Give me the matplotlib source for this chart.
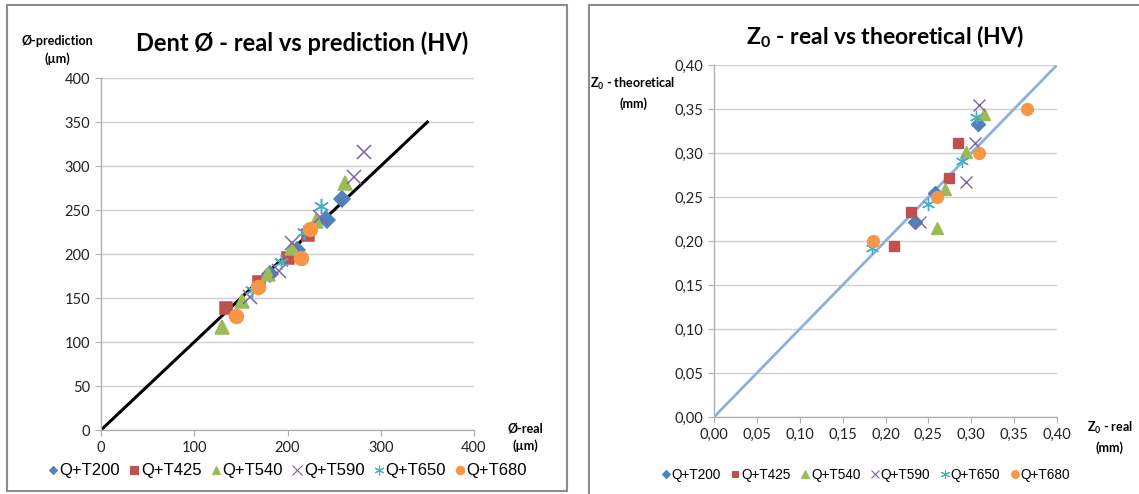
import matplotlib
matplotlib.use('Agg')
import matplotlib.pyplot as plt
from matplotlib.lines import Line2D
from matplotlib.patches import Rectangle
from matplotlib.ticker import FuncFormatter, MultipleLocator

plt.rcParams['font.family'] = ['Lato', 'DejaVu Sans']
plt.rcParams['mathtext.fontset'] = 'custom'
plt.rcParams['mathtext.rm'] = 'Lato'
plt.rcParams['mathtext.bf'] = 'Lato:bold'

series = ['Q+T200', 'Q+T425', 'Q+T540', 'Q+T590', 'Q+T650', 'Q+T680']
colors = ['#4f81bd', '#c0504d', '#9bbb59', '#8064a2', '#4bacc6', '#f79646']
markers = ['D', 's', '^', 'x', (6, 2, 0), 'o']

# dent diameter, real vs predicted (um)
dent_real = [
    [258, 242, 210, 181],
    [222, 200, 169, 134],
    [262, 231, 205, 179, 151, 130],
    [282, 271, 235, 205, 191, 160],
    [236, 218, 193, 162],
    [224, 215, 168, 145],
]
dent_pred = [
    [262, 239, 204, 177],
    [222, 196, 168, 139],
    [281, 237, 207, 177, 147, 117],
    [316, 287, 242, 212, 181, 151],
    [255, 225, 191, 159],
    [228, 195, 162, 129],
]

# Z0 depth, real vs theoretical (mm)
z0_real = [
    [0.308, 0.258, 0.234],
    [0.284, 0.274, 0.230, 0.210],
    [0.315, 0.294, 0.269, 0.260],
    [0.309, 0.304, 0.294, 0.240],
    [0.306, 0.289, 0.249, 0.184],
    [0.365, 0.309, 0.260, 0.185],
]
z0_theo = [
    [0.333, 0.254, 0.222],
    [0.311, 0.272, 0.233, 0.194],
    [0.344, 0.301, 0.259, 0.215],
    [0.354, 0.311, 0.267, 0.222],
    [0.341, 0.291, 0.242, 0.192],
    [0.350, 0.300, 0.250, 0.200],
]

W, H = 1139, 494
fig = plt.figure(figsize=(W / 100, H / 100), dpi=100)


def fx(x):
    return x / W


def fy(y):
    return 1 - y / H


# chart frames
fig.patches.append(Rectangle((fx(7), fy(491)), fx(560), (491 - 5) / H, transform=fig.transFigure,
                             fill=False, edgecolor='#8c8c8c', lw=1.5))
fig.patches.append(Rectangle((fx(589), fy(500)), fx(600), (500 - 5) / H, transform=fig.transFigure,
                             fill=False, edgecolor='#8c8c8c', lw=1.5))

ax1 = fig.add_axes([fx(101), fy(430), 373 / W, 352 / H])
ax2 = fig.add_axes([fx(714), fy(417), 343 / W, 352 / H])


def style(ax):
    for s in ['top', 'right']:
        ax.spines[s].set_visible(False)
    for s in ['left', 'bottom']:
        ax.spines[s].set_color('#b0b0b0')
        ax.spines[s].set_linewidth(1)
    ax.grid(axis='y', color='#d0d0d0', lw=1)
    ax.set_axisbelow(True)
    ax.tick_params(length=4, color='#b0b0b0', labelsize=10.5, labelcolor='#222222', pad=4)


msize = [7, 7.5, 8, 8, 9.5, 8.5]

# left: dent diameter
style(ax1)
ax1.plot([0, 350], [0, 350], color='black', lw=2.2, zorder=2)
for i in range(len(series)):
    ax1.plot(dent_real[i], dent_pred[i], ls='none', marker=markers[i], color=colors[i],
             ms=msize[i] + 1.5, mew=1.1, zorder=3)
ax1.set_xlim(0, 400)
ax1.set_ylim(0, 400)
ax1.xaxis.set_major_locator(MultipleLocator(100))
ax1.yaxis.set_major_locator(MultipleLocator(50))

# right: Z0 depth
style(ax2)
ax2.plot([0, 0.4], [0, 0.4], color='#8eb0dc', lw=2, zorder=2)
for i in range(len(series)):
    ax2.plot(z0_real[i], z0_theo[i], ls='none', marker=markers[i], color=colors[i],
             ms=msize[i], mew=1.0, zorder=3)
ax2.set_xlim(0, 0.4)
ax2.set_ylim(0, 0.4)
ax2.xaxis.set_major_locator(MultipleLocator(0.05))
ax2.yaxis.set_major_locator(MultipleLocator(0.05))
comma = FuncFormatter(lambda v, p: f'{v:.2f}'.replace('.', ','))
ax2.xaxis.set_major_formatter(comma)
ax2.yaxis.set_major_formatter(comma)

# titles and axis captions
fig.text(fx(302), fy(43), 'Dent Ø - real vs prediction (HV)', ha='center', va='center',
         fontsize=17, fontweight='bold')
fig.text(fx(885), fy(37), r'Z$_\mathbf{0}$ - real vs theoretical (HV)', ha='center', va='center',
         fontsize=16.5, fontweight='bold')
fig.text(fx(57), fy(50), 'Ø-prediction\n(µm)', ha='center', va='center', fontsize=9,
         fontweight='bold', linespacing=1.5)
fig.text(fx(525), fy(437), 'Ø-real\n(µm)', ha='center', va='center', fontsize=9,
         fontweight='bold', linespacing=1.5)
fig.text(fx(633), fy(93), r'Z$_\mathbf{0}$ - theoretical' + '\n(mm)', ha='center', va='center',
         fontsize=9, fontweight='bold', linespacing=1.5)
fig.text(fx(1110), fy(437), r'Z$_\mathbf{0}$ - real' + '\n(mm)', ha='center', va='center',
         fontsize=9, fontweight='bold', linespacing=1.5)


def legend_handles(size):
    return [Line2D([], [], ls='none', marker=markers[i], color=colors[i], ms=size[i], mew=0.8)
            for i in range(len(series))]


fig.legend(legend_handles([4.5, 5.5, 6, 6.5, 7, 6]), series, loc='center', ncol=6, frameon=False,
           bbox_to_anchor=(fx(288), fy(471)), handletextpad=0.15, columnspacing=0.6,
           handlelength=0.5, prop={'family': 'Liberation Sans', 'size': 12})
fig.legend(legend_handles([4, 5, 5.5, 6, 6.5, 5.5]), series, loc='center', ncol=6, frameon=False,
           bbox_to_anchor=(fx(866), fy(475)), handletextpad=0.15, columnspacing=0.8,
           handlelength=0.55, prop={'family': 'Liberation Sans', 'size': 9.8})

fig.savefig('out.png', dpi=100)
